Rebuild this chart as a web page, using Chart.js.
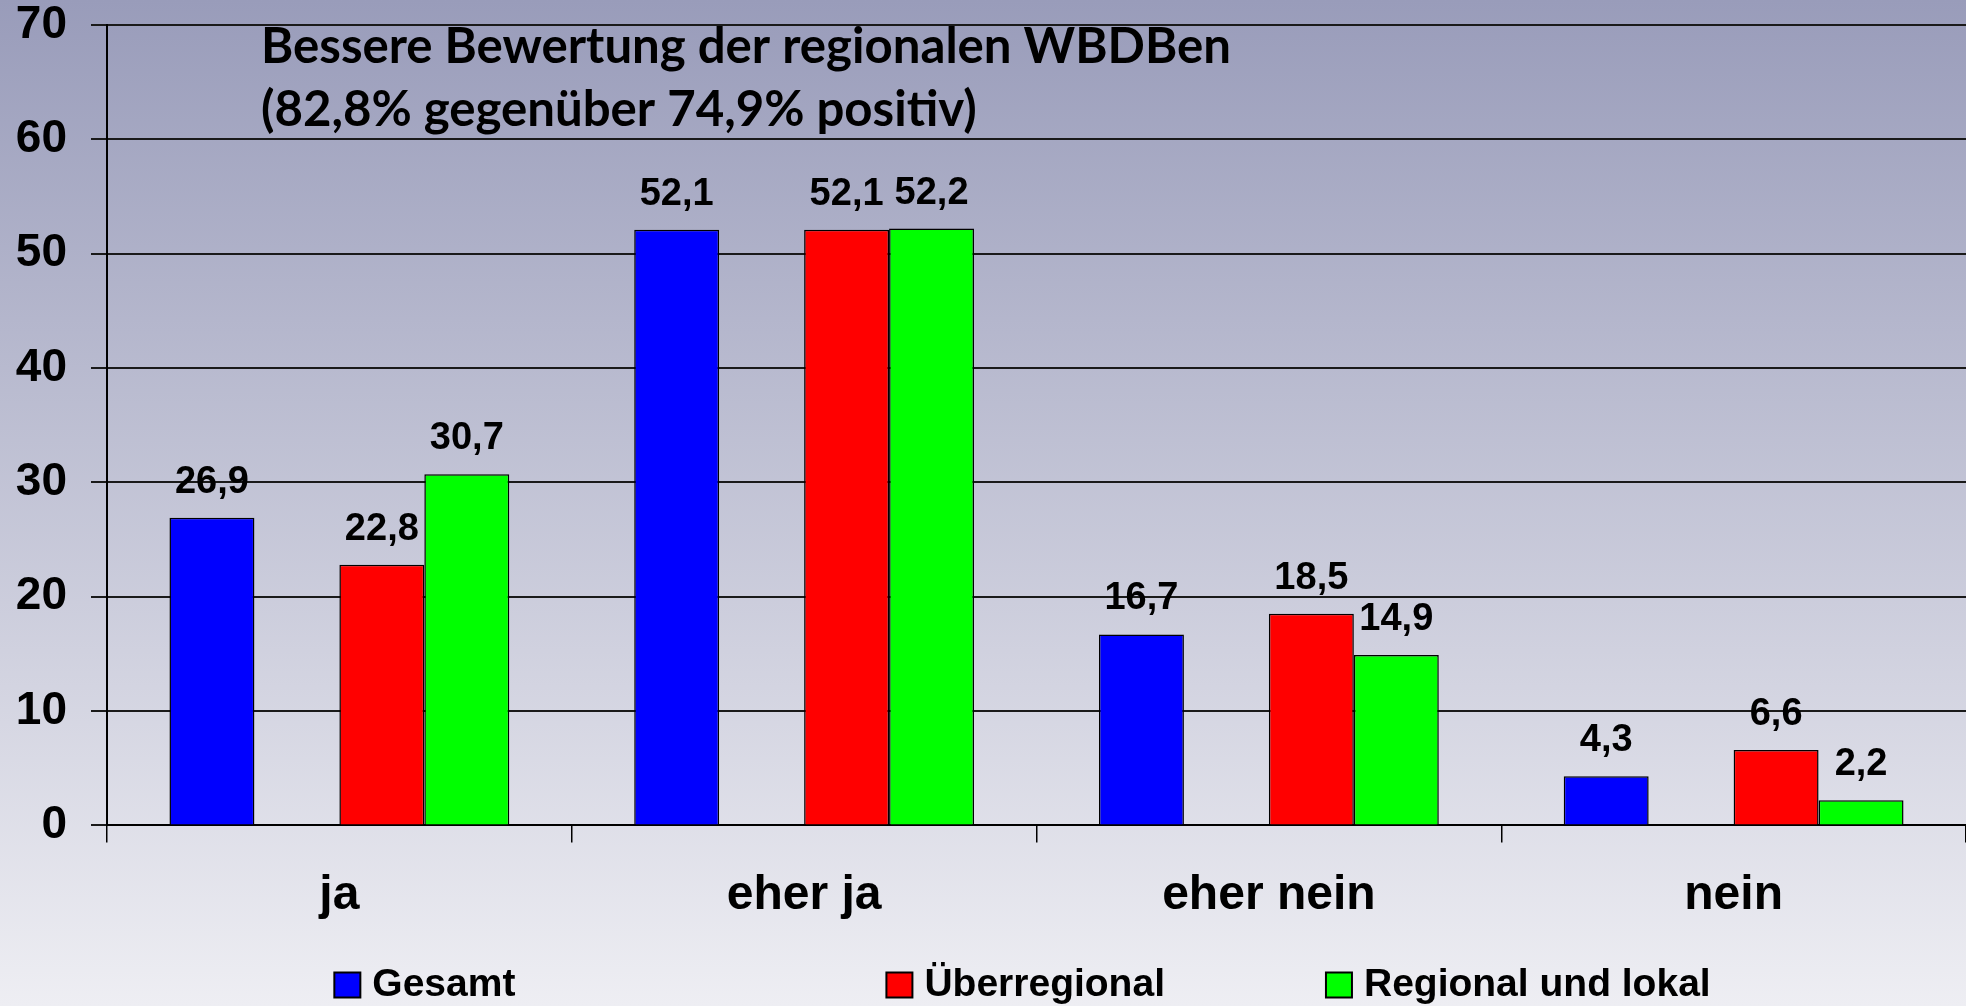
<!DOCTYPE html>
<html><head><meta charset="utf-8">
<script src="https://cdn.jsdelivr.net/npm/chart.js@4"></script>
<style>
html,body{margin:0;padding:0;overflow:hidden;}
#wrap{width:1966px;height:1006px;background:linear-gradient(to bottom,#999cba 0%,#eeeef3 100%);}
</style></head><body><div id="wrap"><canvas id="c"></canvas></div>
<script>
const categories = ['ja', 'eher ja', 'eher nein', 'nein'];
const gesamt = [26.9, 52.1, 16.7, 4.3];
const leer = [null, null, null, null];
const ueberregional = [22.8, 52.1, 18.5, 6.6];
const regional = [30.7, 52.2, 14.9, 2.2];
const seriesNames = ['Gesamt', '', 'Überregional', 'Regional und lokal'];
const seriesColors = ['#0000ff', 'rgba(0,0,0,0)', '#ff0000', '#00ff00'];
const yTicks = [0, 10, 20, 30, 40, 50, 60, 70];
const titleLines = ['Bessere Bewertung der regionalen WBDBen', '(82,8% gegenüber 74,9% positiv)'];

const FONT = 'Arial, "Liberation Sans", sans-serif';

const valueLabels = {
  id: 'valueLabels',
  afterDatasetsDraw(chart) {
    const ctx = chart.ctx;
    ctx.save();
    ctx.font = 'bold 38px ' + FONT;
    ctx.fillStyle = '#000';
    ctx.textAlign = 'center';
    ctx.textBaseline = 'alphabetic';
    chart.data.datasets.forEach((ds, i) => {
      const meta = chart.getDatasetMeta(i);
      meta.data.forEach((bar, j) => {
        const v = ds.data[j];
        if (v == null) return;
        ctx.fillText(v.toFixed(1).replace('.', ','), bar.x, bar.y - 25);
      });
    });
    ctx.restore();
  }
};

const titleText = {
  id: 'titleText',
  afterDraw(chart) {
    const ctx = chart.ctx;
    ctx.save();
    ctx.font = 'bold 100px Lato, "Open Sans", sans-serif';
    const w = ctx.measureText(titleLines[0]).width;
    const size = 100 * 970 / w;
    ctx.font = 'bold ' + size.toFixed(2) + 'px Lato, "Open Sans", sans-serif';
    ctx.fillStyle = '#000';
    ctx.textAlign = 'left';
    ctx.textBaseline = 'alphabetic';
    const x = chart.chartArea.left + 154;
    ctx.fillText(titleLines[0], x, chart.chartArea.top + 38);
    ctx.fillText(titleLines[1], x, chart.chartArea.top + 101);
    ctx.restore();
  }
};

const customLegend = {
  id: 'customLegend',
  afterDraw(chart) {
    const ctx = chart.ctx;
    ctx.save();
    ctx.font = 'bold 39px ' + FONT;
    const box = 26, boxH = 25, textGap = 12, itemGap = 161, blankW = 43;
    const widths = seriesNames.map(n => n ? box + textGap + ctx.measureText(n).width : blankW);
    const total = widths.reduce((a, b) => a + b, 0) + itemGap * (widths.length - 1);
    const center = (chart.chartArea.left + chart.chartArea.right) / 2 - 17;
    let x = center - total / 2;
    const yc = chart.height - 21;
    ctx.textBaseline = 'middle';
    ctx.textAlign = 'left';
    seriesNames.forEach((n, i) => {
      if (n) {
        ctx.fillStyle = seriesColors[i];
        ctx.fillRect(x, yc - boxH / 2, box, boxH);
        ctx.lineWidth = 2;
        ctx.strokeStyle = '#000';
        ctx.strokeRect(x, yc - boxH / 2, box, boxH);
        ctx.fillStyle = '#000';
        ctx.fillText(n, x + box + textGap, yc);
      }
      x += widths[i] + (i === 0 ? itemGap + 6 : itemGap);
    });
    ctx.restore();
  }
};

const seriesData = [gesamt, leer, ueberregional, regional];

new Chart(document.getElementById('c'), {
  type: 'bar',
  data: {
    labels: categories,
    datasets: seriesData.map((d, i) => ({
      label: seriesNames[i],
      data: d,
      backgroundColor: seriesColors[i],
      borderColor: '#000',
      borderWidth: 1.5,
      barPercentage: 1,
      categoryPercentage: 340 / 465
    }))
  },
  options: {
    responsive: true,
    maintainAspectRatio: false,
    animation: false,
    layout: { padding: { top: 25, right: 0, bottom: 56, left: 0 } },
    plugins: { legend: { display: false }, tooltip: { enabled: false }, title: { display: false } },
    scales: {
      x: {
        grid: { display: true, drawOnChartArea: false, drawTicks: true, tickLength: 17, color: '#000', lineWidth: 1.5, offset: true },
        border: { display: true, color: '#000', width: 2 },
        ticks: { color: '#000', padding: 25, font: { family: FONT, size: 48, weight: 'bold' } }
      },
      y: {
        min: 0, max: 70,
        afterBuildTicks: s => { s.ticks = yTicks.map(v => ({ value: v })); },
        afterFit: s => { s.width = 107; s.paddingTop = 0; s.paddingBottom = 0; },
        grid: { color: '#1a1a1a', lineWidth: 2, tickLength: 16, drawTicks: true },
        border: { display: true, color: '#000', width: 2 },
        ticks: { color: '#000', padding: 24, font: { family: FONT, size: 46, weight: 'bold', lineHeight: 1 } }
      }
    }
  },
  plugins: [valueLabels, titleText, customLegend]
});
</script></body></html>
